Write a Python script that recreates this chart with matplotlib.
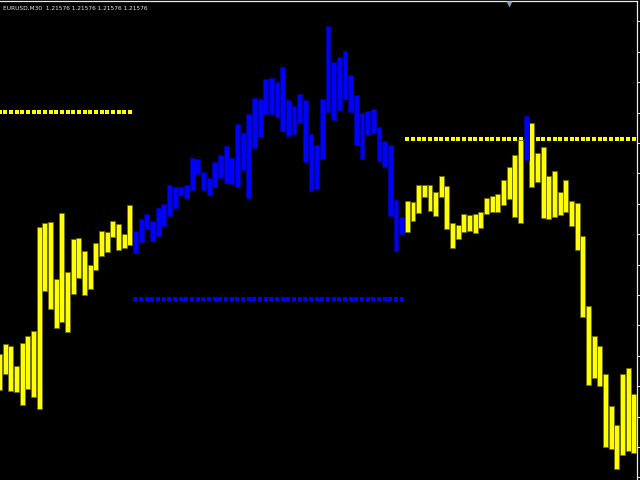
import matplotlib
matplotlib.use("Agg")
import matplotlib.pyplot as plt
import numpy as np

body_top = [1.21646, 1.21656, 1.21654, 1.21634, 1.21657, 1.21664, 1.21669, 1.21773, 1.21777, 1.21778,
            1.21721, 1.21787, 1.21728, 1.21761, 1.21762, 1.21749, 1.21735, 1.21757, 1.21769, 1.21768,
            1.21779, 1.21776, 1.21766, 1.21795, 1.21769, 1.21781, 1.21786, 1.21779, 1.21792, 1.21796,
            1.21815, 1.21813, 1.21813, 1.21815, 1.21842, 1.21841, 1.21828, 1.21822, 1.21838, 1.21845,
            1.21854, 1.21842, 1.21876, 1.21867, 1.21886, 1.21902, 1.21901, 1.21921, 1.21922, 1.21918,
            1.21933, 1.21900, 1.21894, 1.21906, 1.21900, 1.21866, 1.21855, 1.21901, 1.21974, 1.21938,
            1.21943, 1.21949, 1.21925, 1.21905, 1.21887, 1.21889, 1.21891, 1.21873, 1.21859, 1.21855,
            1.21800, 1.21783, 1.21799, 1.21798, 1.21815, 1.21815, 1.21815, 1.21808, 1.21824, 1.21814,
            1.21777, 1.21775, 1.21786, 1.21785, 1.21786, 1.21788, 1.21802, 1.21804, 1.21806, 1.21820,
            1.21833, 1.21845, 1.21860, 1.21884, 1.21877, 1.21847, 1.21853, 1.21824, 1.21829, 1.21808,
            1.21820, 1.21799, 1.21797, 1.21764, 1.21694, 1.21664, 1.21654, 1.21626, 1.21594, 1.21575,
            1.21626, 1.21632, 1.21606]
body_bot = [1.21610, 1.21626, 1.21609, 1.21608, 1.21595, 1.21611, 1.21603, 1.21591, 1.21709, 1.21691,
            1.21672, 1.21678, 1.21668, 1.21706, 1.21722, 1.21705, 1.21711, 1.21730, 1.21744, 1.21748,
            1.21763, 1.21750, 1.21752, 1.21755, 1.21747, 1.21758, 1.21771, 1.21759, 1.21764, 1.21774,
            1.21784, 1.21792, 1.21805, 1.21802, 1.21810, 1.21826, 1.21810, 1.21805, 1.21813, 1.21822,
            1.21817, 1.21816, 1.21813, 1.21830, 1.21802, 1.21852, 1.21863, 1.21886, 1.21886, 1.21883,
            1.21869, 1.21864, 1.21866, 1.21877, 1.21838, 1.21809, 1.21811, 1.21841, 1.21888, 1.21880,
            1.21890, 1.21901, 1.21888, 1.21855, 1.21841, 1.21865, 1.21867, 1.21839, 1.21833, 1.21784,
            1.21749, 1.21766, 1.21768, 1.21779, 1.21787, 1.21803, 1.21789, 1.21784, 1.21803, 1.21771,
            1.21752, 1.21761, 1.21768, 1.21769, 1.21767, 1.21772, 1.21786, 1.21788, 1.21788, 1.21795,
            1.21801, 1.21783, 1.21777, 1.21840, 1.21813, 1.21818, 1.21782, 1.21781, 1.21783, 1.21785,
            1.21788, 1.21774, 1.21750, 1.21683, 1.21615, 1.21622, 1.21614, 1.21553, 1.21551, 1.21531,
            1.21545, 1.21549, 1.21547]
# trend state per bar: 1 = up (yellow), -1 = down (blue)
trend = [1] * 24 + [-1] * 48 + [1] * 21 + [-1] + [1] * 19

# stop levels (dotted) per segment: (first bar, last bar, price, trend)
levels = [(0, 23, 1.21888, 1), (24, 71, 1.21701, -1), (72, 112, 1.21861, 1)]

symbol_text = "EURUSD,M30  1.21576 1.21576 1.21576 1.21576"

up_col, dn_col = "#FFFF00", "#0000FF"
up_edge, dn_edge = "#6b6b00", "#00009a"

fig = plt.figure(figsize=(6.4, 4.8), dpi=100, facecolor="black")
ax = fig.add_axes([0, 0, 637.3 / 640, 1 - 1.3 / 480])
ax.set_facecolor("black")

x = np.arange(len(body_top))
top = np.array(body_top)
bot = np.array(body_bot)
tr = np.array(trend)

# dotted levels first, bars on top of them
for i0, i1, lvl, t in levels:
    xs = np.arange(i0, i1 + 1)
    ax.plot(xs, [lvl] * len(xs), ls="none", marker="s", ms=2.4, mew=0,
            color=up_col if t > 0 else dn_col, zorder=1)

for t, fc, ec in [(1, up_col, up_edge), (-1, dn_col, dn_edge)]:
    m = tr == t
    ax.bar(x[m], top[m] - bot[m], bottom=bot[m], width=0.86, color=fc,
           edgecolor=ec, linewidth=0.6, zorder=2)

ax.set_xlim(0.0706, 112.62)
ax.set_ylim(1.21520, 1.219987)

# frame like the terminal window: top and right only
for s in ["left", "bottom"]:
    ax.spines[s].set_visible(False)
for s in ["top", "right"]:
    ax.spines[s].set_color("#e8e8e8")
    ax.spines[s].set_linewidth(0.9)

ax.set_xticks([])
ax.yaxis.tick_right()
ax.set_yticks([1.218267 - 0.000304 * n for n in range(-5, 11)])
ax.tick_params(axis="y", direction="out", length=2.5, width=0.7,
               color="#e8e8e8", labelright=False, right=True, left=False)

# shift marker
ax.plot([509 / 637.3], [1.0 - 2.5 / 478.7], transform=ax.transAxes, marker="v",
        ms=4.5, color="#8a9aaa", mec="none", clip_on=False, zorder=5)

fig.text(3 / 640, 1 - 8.5 / 480, symbol_text, color="#e6e6e6", fontsize=4.25,
         family="DejaVu Sans", va="center", ha="left")

fig.savefig("out.png", dpi=100, facecolor="black")
